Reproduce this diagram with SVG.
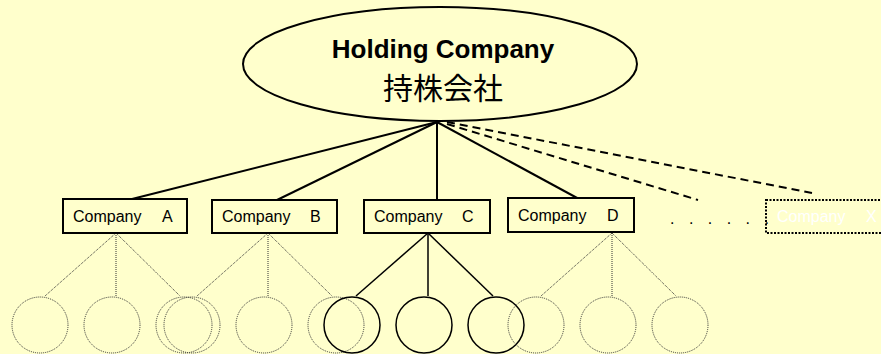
<svg xmlns="http://www.w3.org/2000/svg" width="881" height="354" viewBox="0 0 881 354">
<style>
.box{fill:#FFFFCC;stroke:#000;stroke-width:2}
.lbl{font-family:"Liberation Sans",Arial,sans-serif;font-size:16px;fill:#000}
.solid{stroke:#000;stroke-width:2;fill:none}
.dash{stroke:#000;stroke-width:2;fill:none;stroke-dasharray:8,5}
.dot{stroke:#333;stroke-width:1;fill:none;stroke-dasharray:1,1}
.sc{stroke:#000;stroke-width:1.5;fill:none}
</style>
<rect width="881" height="354" fill="#FFFFCC"/>
<g id="connectors">
<line class="solid" x1="437" y1="122" x2="132" y2="199"/>
<line class="solid" x1="437" y1="122" x2="277" y2="200"/>
<line class="solid" x1="437" y1="122" x2="437" y2="200" stroke-width="3"/>
<line class="solid" x1="437" y1="122" x2="579" y2="199"/>
<line class="dash" x1="447" y1="124" x2="698" y2="200"/>
<line class="dash" x1="447" y1="122" x2="812" y2="193"/>
<line class="dot" x1="116" y1="233" x2="45" y2="296"/>
<line class="dot" x1="116" y1="233" x2="116" y2="296"/>
<line class="dot" x1="116" y1="233" x2="180" y2="296"/>
<line class="dot" x1="268" y1="233" x2="197" y2="296"/>
<line class="dot" x1="268" y1="233" x2="268" y2="296"/>
<line class="dot" x1="268" y1="233" x2="332" y2="296"/>
<line class="sc" x1="428" y1="233" x2="356" y2="296"/>
<line class="sc" x1="428" y1="233" x2="428" y2="296"/>
<line class="sc" x1="428" y1="233" x2="493" y2="296"/>
<line class="dot" x1="612" y1="233" x2="541" y2="296"/>
<line class="dot" x1="612" y1="233" x2="612" y2="296"/>
<line class="dot" x1="612" y1="233" x2="676" y2="296"/>
</g>
<g id="holding">
<ellipse cx="440" cy="64" rx="197" ry="57" fill="#FFFFCC" stroke="#000" stroke-width="2"/>
<text x="443" y="58" text-anchor="middle" font-family="Liberation Sans,Arial,sans-serif" font-weight="bold" font-size="26px">Holding Company</text>
<text x="443" y="99" text-anchor="middle" font-family="Noto Sans CJK JP,sans-serif" font-size="30px">持株会社</text>
</g>
<g id="companyA"><rect class="box" x="63" y="199" width="124" height="34"/><text class="lbl" x="73" y="222">Company</text><text class="lbl" x="162" y="222">A</text></g>
<g id="companyB"><rect class="box" x="212" y="200" width="125" height="33"/><text class="lbl" x="222" y="222">Company</text><text class="lbl" x="310" y="222">B</text></g>
<g id="companyC"><rect class="box" x="364" y="200" width="126" height="33"/><text class="lbl" x="374" y="222">Company</text><text class="lbl" x="462" y="222">C</text></g>
<g id="companyD"><rect class="box" x="508" y="198" width="126" height="34"/><text class="lbl" x="518" y="221">Company</text><text class="lbl" x="607" y="221">D</text></g>
<g id="dots"><text class="lbl" x="670" y="224" letter-spacing="5">. . . . . .</text></g>
<g id="companyX"><rect x="766" y="200" width="125" height="33" fill="none" stroke="#000" stroke-width="2" stroke-dasharray="2,1.5"/><text class="lbl" x="777" y="222" style="fill:#fff">Company</text><text class="lbl" x="866" y="222" style="fill:#fff">X</text></g>
<g id="circles">
<circle class="dot" cx="40" cy="325" r="28"/>
<circle class="dot" cx="112" cy="325" r="28"/>
<circle class="dot" cx="184" cy="325" r="28"/>
<circle class="dot" cx="192" cy="325" r="28"/>
<circle class="dot" cx="264" cy="325" r="28"/>
<circle class="dot" cx="336" cy="325" r="28"/>
<circle class="sc" cx="352" cy="325" r="28"/>
<circle class="sc" cx="424" cy="325" r="28"/>
<circle class="sc" cx="496" cy="325" r="28"/>
<circle class="dot" cx="536" cy="325" r="28"/>
<circle class="dot" cx="608" cy="325" r="28"/>
<circle class="dot" cx="680" cy="325" r="28"/>
</g>
</svg>
